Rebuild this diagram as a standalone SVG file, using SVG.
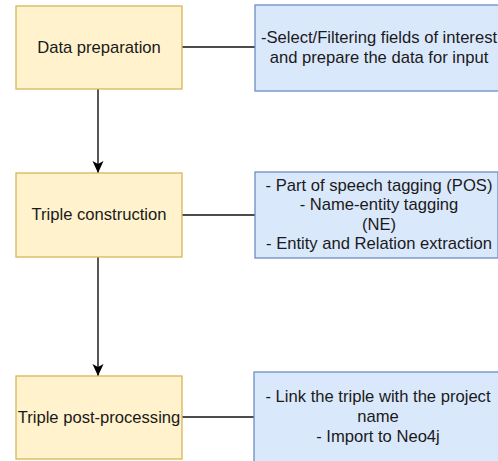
<svg xmlns="http://www.w3.org/2000/svg" width="498" height="461" viewBox="0 0 498 461">
<style>
.y{fill:#fff2cc;stroke:#d6b656;stroke-width:1.3}
.b{fill:#dae8fc;stroke:#6c8ebf;stroke-width:1.3}
text{font-family:"Liberation Sans",Arial,sans-serif;font-size:16.6px;fill:#1a1a1a;text-anchor:middle}
.c{stroke:#111;stroke-width:1.4;fill:none}
</style>
<defs>
<marker id="arr" markerWidth="14" markerHeight="14" viewBox="0 0 14 14" refX="13" refY="7" orient="auto" markerUnits="userSpaceOnUse">
<path d="M1,1.5 L13,7 L1,12.5 L4,7 Z" fill="#000"/>
</marker>
</defs>
<rect width="498" height="461" fill="#fff"/>
<g id="connectors">
<path class="c" d="M98,89 V173" marker-end="url(#arr)"/>
<path class="c" d="M98,257 V376" marker-end="url(#arr)"/>
<path class="c" d="M182,47 H255"/>
<path class="c" d="M182,215 H255"/>
<path class="c" d="M182,417 H255"/>
</g>
<g id="data-preparation">
<rect class="y" x="16" y="6" width="166" height="83"/>
<text x="99" y="53">Data preparation</text>
</g>
<g id="triple-construction">
<rect class="y" x="16" y="173" width="166" height="84"/>
<text x="99" y="220">Triple construction</text>
</g>
<g id="triple-post-processing">
<rect class="y" x="16" y="376" width="166" height="83"/>
<text x="99" y="423">Triple post-processing</text>
</g>
<g id="note-1">
<rect class="b" x="255" y="5" width="246" height="86"/>
<text x="379" y="43">-Select/Filtering fields of interest</text>
<text x="379" y="63">and prepare the data for input</text>
</g>
<g id="note-2">
<rect class="b" x="255" y="172" width="243" height="86"/>
<text x="379" y="191">- Part of speech tagging (POS)</text>
<text x="379" y="210">- Name-entity tagging</text>
<text x="379" y="229.5">(NE)</text>
<text x="379" y="249">- Entity and Relation extraction</text>
</g>
<g id="note-3">
<rect class="b" x="254" y="372" width="246" height="95"/>
<text x="378" y="402">- Link the triple with the project</text>
<text x="378" y="422">name</text>
<text x="378" y="442">- Import to Neo4j</text>
</g>
</svg>
